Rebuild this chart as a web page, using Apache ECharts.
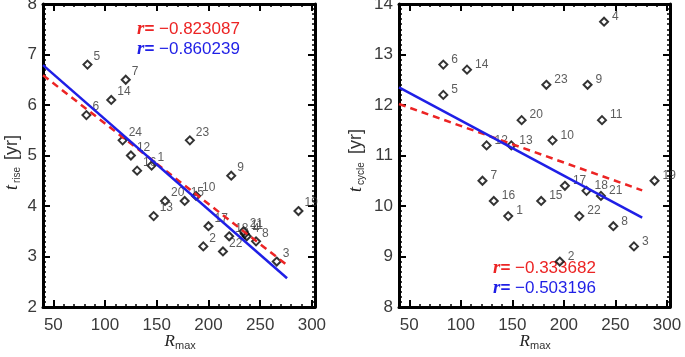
<!DOCTYPE html>
<html>
<head>
<meta charset="utf-8">
<script src="https://cdn.jsdelivr.net/npm/echarts@6/dist/echarts.min.js"></script>
<style>
  html, body { margin: 0; padding: 0; background: #fff; }
  #chart { width: 685px; height: 357px; }
</style>
</head>
<body>
<div id="chart"></div>
<script>
// --- data ---
// left panel: t_rise vs R_max
const idLeft   = [1, 2, 3, 4, 5, 6, 7, 8, 9, 10, 11, 12, 13, 14, 15, 16, 17, 18, 19, 20, 21, 22, 23, 24];
const rLeft    = [145, 195, 266, 237, 83, 82, 120, 246, 222, 188, 235, 125, 147, 106, 177, 131, 200, 220, 287, 158, 234, 214, 182, 117];
const tRise    = [4.8, 3.2, 2.9, 3.4, 6.8, 5.8, 6.5, 3.3, 4.6, 4.2, 3.45, 5.0, 3.8, 6.1, 4.1, 4.7, 3.6, 3.4, 3.9, 4.1, 3.5, 3.1, 5.3, 5.3];
// right panel: t_cycle vs R_max
const idRight  = [1, 2, 3, 4, 5, 6, 7, 8, 9, 10, 11, 12, 13, 14, 15, 16, 17, 18, 19, 20, 21, 22, 23];
const rRight   = [146, 196, 268, 239, 83, 83, 121, 248, 223, 189, 237, 125, 149, 106, 178, 132, 201, 222, 288, 159, 236, 215, 183];
const tCycle   = [9.8, 8.9, 9.2, 13.65, 12.2, 12.8, 10.5, 9.6, 12.4, 11.3, 11.7, 11.2, 11.2, 12.7, 10.1, 10.1, 10.4, 10.3, 10.5, 11.7, 10.2, 9.8, 12.4];
// fit lines (end points)
const fitX        = [40, 276];
const fitLeftRed  = [6.59, 2.83];
const fitLeftBlue = [6.79, 2.57];
const fitRightRed = [12.02, 10.31];
const fitRightBlue= [12.35, 9.77];
// tick labels / correlations
const majorX = [50, 100, 150, 200, 250, 300];
const rLeftRed = '\u22120.823087', rLeftBlue = '\u22120.860239';
const rRightRed = '\u22120.333682', rRightBlue = '\u22120.503196';

const RED = '#ec2424', BLUE = '#1f1fe6';
const FONT = 'Liberation Sans';

function pts(xs, ys, ids) {
  return xs.map((x, i) => ids ? [x, ys[i], ids[i]] : [x, ys[i]]);
}

// x axis with minor ticks every 10 (and labels)
function xMinor(grid, pos, labels) {
  return {
    type: 'value', gridIndex: grid, position: pos, min: 40, max: 303, interval: 10,
    axisLine: { show: true, onZero: false, lineStyle: { color: '#000', width: 3 } },
    axisTick: { show: true, inside: true, length: 3, lineStyle: { color: '#000', width: 1.5 } },
    axisLabel: {
      show: labels, margin: 10, fontSize: 17, fontFamily: FONT, color: '#3a3a3a',
      formatter: v => (v % 50 === 0 ? String(v) : '')
    },
    splitLine: { show: false }
  };
}
// x axis carrying the long ticks
function xMajor(grid, pos) {
  return {
    type: 'value', gridIndex: grid, position: pos, min: 40, max: 303,
    axisLine: { show: false, onZero: false },
    axisTick: { show: true, inside: true, length: 7, customValues: majorX, lineStyle: { color: '#000', width: 2 } },
    axisLabel: { show: false },
    splitLine: { show: false }
  };
}
function yAxisDef(grid, pos, min, max, labels) {
  return {
    type: 'value', gridIndex: grid, position: pos, min: min, max: max, interval: 1,
    axisLine: { show: true, onZero: false, lineStyle: { color: '#000', width: 3 } },
    axisTick: { show: true, inside: true, length: 7, lineStyle: { color: '#000', width: 2 } },
    minorTick: { show: true, splitNumber: 10, length: 3, lineStyle: { color: '#000', width: 1.5 } },
    axisLabel: { show: labels, margin: 6, fontSize: 17, fontFamily: FONT, color: '#3a3a3a' },
    splitLine: { show: false }, minorSplitLine: { show: false }
  };
}
function yHidden(grid) {
  return { type: 'value', gridIndex: grid, min: 0, max: 1, show: false };
}

function scatter(xi, yi, data, dist, off) {
  return {
    type: 'scatter', xAxisIndex: xi, yAxisIndex: yi, data: data, z: 3, clip: false,
    symbol: 'diamond', symbolSize: 8,
    itemStyle: { color: '#fff', borderColor: '#000', borderWidth: 2 },
    label: {
      show: true, position: 'right', distance: dist, offset: off,
      formatter: p => String(p.value[2]),
      fontSize: 12, fontFamily: FONT, color: '#333'
    }
  };
}
function fitLine(xi, yi, ys, color, dashed) {
  return {
    type: 'line', xAxisIndex: xi, yAxisIndex: yi, data: pts(fitX, ys), z: 4,
    symbol: 'none', silent: true,
    lineStyle: { color: color, width: 2.5, type: dashed ? [7, 5] : 'solid' }
  };
}

function rText(x, y, val, color) {
  return {
    type: 'text', x: x, y: y, silent: true,
    style: {
      text: '{r|r}{e|= }{n|' + val + '}',
      verticalAlign: 'middle', fill: color,
      rich: {
        r: { fontFamily: 'Liberation Serif', fontStyle: 'italic', fontWeight: 'bold', fontSize: 19, fill: color },
        e: { fontFamily: FONT, fontWeight: 'bold', fontSize: 17, fill: color },
        n: { fontFamily: FONT, fontSize: 17, fill: color }
      }
    }
  };
}
function xTitle(cx) {
  return {
    type: 'group', silent: true,
    children: [
      { type: 'text', x: cx - 4, y: 342, style: { text: 'R', align: 'right', verticalAlign: 'middle', fontFamily: 'Liberation Serif', fontStyle: 'italic', fontSize: 17, fill: '#222' } },
      { type: 'text', x: cx - 4, y: 346, style: { text: 'max', align: 'left', verticalAlign: 'middle', fontFamily: FONT, fontSize: 11, fill: '#333' } }
    ]
  };
}
function yTitle(x, y, sub, subW) {
  return {
    type: 'group', x: x, y: y, rotation: Math.PI / 2, silent: true,
    children: [
      { type: 'text', x: 0, y: 0, style: { text: 't', align: 'left', verticalAlign: 'middle', fontFamily: 'Liberation Serif', fontStyle: 'italic', fontSize: 18, fill: '#222' } },
      { type: 'text', x: 7, y: 5, style: { text: sub, align: 'left', verticalAlign: 'middle', fontFamily: FONT, fontSize: 10, fill: '#333' } },
      { type: 'text', x: 7 + subW + 6, y: 0, style: { text: '[yr]', align: 'left', verticalAlign: 'middle', fontFamily: FONT, fontSize: 18, fill: '#333' } }
    ]
  };
}

const chart = echarts.init(document.getElementById('chart'));
chart.setOption({
  animation: false,
  backgroundColor: '#fff',
  grid: [
    { left: 43, right: 370, top: 4, bottom: 50, containLabel: false, outerBoundsMode: 'none' },
    { left: 43, right: 370, top: 4, bottom: 50, containLabel: false, outerBoundsMode: 'none' },
    { left: 399, right: 15, top: 4, bottom: 50, containLabel: false, outerBoundsMode: 'none' },
    { left: 399, right: 15, top: 4, bottom: 50, containLabel: false, outerBoundsMode: 'none' }
  ],
  xAxis: [
    xMinor(0, 'bottom', true), xMinor(0, 'top', false),
    xMajor(1, 'bottom'), xMajor(1, 'top'),
    xMinor(2, 'bottom', true), xMinor(2, 'top', false),
    xMajor(3, 'bottom'), xMajor(3, 'top')
  ],
  yAxis: [
    yAxisDef(0, 'left', 2, 8, true), yAxisDef(0, 'right', 2, 8, false),
    yHidden(1),
    yAxisDef(2, 'left', 8, 14, true), yAxisDef(2, 'right', 8, 14, false),
    yHidden(3)
  ],
  series: [
    fitLine(0, 0, fitLeftRed, RED, true),
    fitLine(0, 0, fitLeftBlue, BLUE, false),
    scatter(0, 0, pts(rLeft, tRise, idLeft), 1, [0, -8]),
    fitLine(4, 3, fitRightRed, RED, true),
    fitLine(4, 3, fitRightBlue, BLUE, false),
    scatter(4, 3, pts(rRight, tCycle, idRight), 3, [0, -5])
  ],
  graphic: [
    rText(137, 29, rLeftRed, RED),
    rText(137, 49, rLeftBlue, BLUE),
    rText(493, 268, rRightRed, RED),
    rText(493, 288, rRightBlue, BLUE),
    xTitle(179),
    xTitle(534),
    yTitle(12, 190, 'rise', 17),
    yTitle(356, 192, 'cycle', 25)
  ]
});
</script>
</body>
</html>
